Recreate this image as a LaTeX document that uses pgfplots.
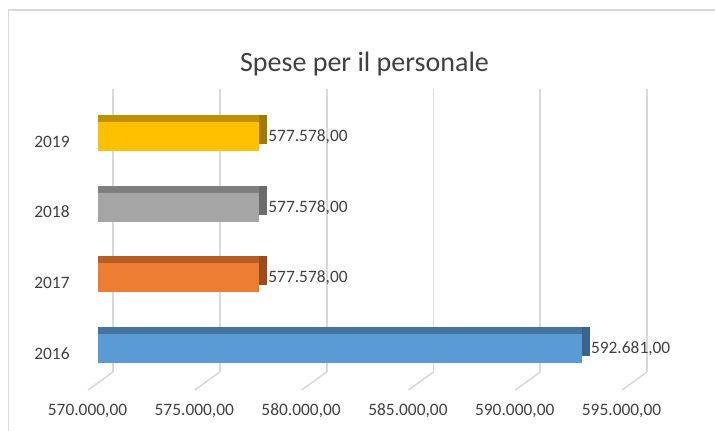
\documentclass[border=0pt]{standalone}
\usepackage{pgfplots}
\pgfplotsset{compat=1.18}
\usepackage{fontspec}
\setmainfont{Carlito}
\definecolor{txt}{HTML}{404040}
\definecolor{gridc}{HTML}{D9D9D9}
\definecolor{bluef}{HTML}{5B9BD5}\definecolor{bluet}{HTML}{44739E}\definecolor{blues}{HTML}{3A648C}
\definecolor{orangef}{HTML}{ED7D31}\definecolor{oranget}{HTML}{B85E24}\definecolor{oranges}{HTML}{9E4A1A}
\definecolor{grayf}{HTML}{A5A5A5}\definecolor{grayt}{HTML}{7F7F7F}\definecolor{grays}{HTML}{6B6B6B}
\definecolor{goldf}{HTML}{FFC000}\definecolor{goldt}{HTML}{BF9000}\definecolor{golds}{HTML}{A27A00}
\begin{document}
\begin{tikzpicture}
\useasboundingbox (0,0) rectangle (357.5pt,-215pt);
\draw[gridc, line width=0.85pt] (4.25pt,-240pt) -- (4.25pt,-4.85pt) -- (380pt,-4.85pt);
\node[anchor=base, text=txt, font=\fontsize{14}{17}\selectfont, inner sep=0pt] at (182.25pt,-35.75pt) {Spese per il personale};
\begin{axis}[
  at={(48.75pt,-186pt)}, anchor=south west,
  scale only axis, width=277.7pt, height=141.5pt,
  xmin=570000, xmax=596000, ymin=-0.333, ymax=3.676,
  axis line style={draw=none},
  major tick length=0pt,
  scaled x ticks=false,
  xtick={570726,575726,580726,585726,590726,595726},
  xticklabels={{570.000,00},{575.000,00},{580.000,00},{585.000,00},{590.000,00},{595.000,00}},
  xmajorgrids, grid style={gridc, line width=0.9pt},
  xticklabel style={anchor=base, inner sep=0pt, xshift=-12.75pt, yshift=-21.5pt, text=txt, font=\fontsize{8.7}{10.4}\selectfont},
  ytick={0,1,2,3}, yticklabels={2016,2017,2018,2019},
  yticklabel style={anchor=base east, inner sep=0pt, xshift=-13.75pt, yshift=-5.3pt, text=txt, font=\fontsize{8.7}{10.4}\selectfont},
  xbar, bar width=14.5pt, bar shift=0pt,
  clip mode=individual,
  point meta=x,
  every node near coord/.append style={anchor=west, inner sep=0pt, xshift=4.3pt, text=txt, font=\fontsize{8.7}{10.4}\selectfont},
]
\draw[gridc, line width=0.8pt] (axis cs:570726,-0.333) -- (axis cs:569555,-0.588);
\draw[gridc, line width=0.8pt] (axis cs:575726,-0.333) -- (axis cs:574555,-0.588);
\draw[gridc, line width=0.8pt] (axis cs:580726,-0.333) -- (axis cs:579555,-0.588);
\draw[gridc, line width=0.8pt] (axis cs:585726,-0.333) -- (axis cs:584555,-0.588);
\draw[gridc, line width=0.8pt] (axis cs:590726,-0.333) -- (axis cs:589555,-0.588);
\draw[gridc, line width=0.8pt] (axis cs:595726,-0.333) -- (axis cs:594555,-0.588);
% 2016
\addplot[fill=blues, draw=none, xshift=4pt, yshift=3.5pt] coordinates {(592681,0)};
\addplot[fill=bluet, draw=none, yshift=3.5pt] coordinates {(592681,0)};
\addplot[fill=bluef, draw=none, nodes near coords={\pgfmathprintnumber[fixed,fixed zerofill,precision=2,use comma,1000 sep={.},assume math mode=true]{\pgfplotspointmeta}}] coordinates {(592681,0)};
% 2017
\addplot[fill=oranges, draw=none, xshift=4pt, yshift=3.5pt] coordinates {(577578,1)};
\addplot[fill=oranget, draw=none, yshift=3.5pt] coordinates {(577578,1)};
\addplot[fill=orangef, draw=none, nodes near coords={\pgfmathprintnumber[fixed,fixed zerofill,precision=2,use comma,1000 sep={.},assume math mode=true]{\pgfplotspointmeta}}] coordinates {(577578,1)};
% 2018
\addplot[fill=grays, draw=none, xshift=4pt, yshift=3.5pt] coordinates {(577578,2)};
\addplot[fill=grayt, draw=none, yshift=3.5pt] coordinates {(577578,2)};
\addplot[fill=grayf, draw=none, nodes near coords={\pgfmathprintnumber[fixed,fixed zerofill,precision=2,use comma,1000 sep={.},assume math mode=true]{\pgfplotspointmeta}}] coordinates {(577578,2)};
% 2019
\addplot[fill=golds, draw=none, xshift=4pt, yshift=3.5pt] coordinates {(577578,3)};
\addplot[fill=goldt, draw=none, yshift=3.5pt] coordinates {(577578,3)};
\addplot[fill=goldf, draw=none, nodes near coords={\pgfmathprintnumber[fixed,fixed zerofill,precision=2,use comma,1000 sep={.},assume math mode=true]{\pgfplotspointmeta}}] coordinates {(577578,3)};
\end{axis}
\end{tikzpicture}
\end{document}
